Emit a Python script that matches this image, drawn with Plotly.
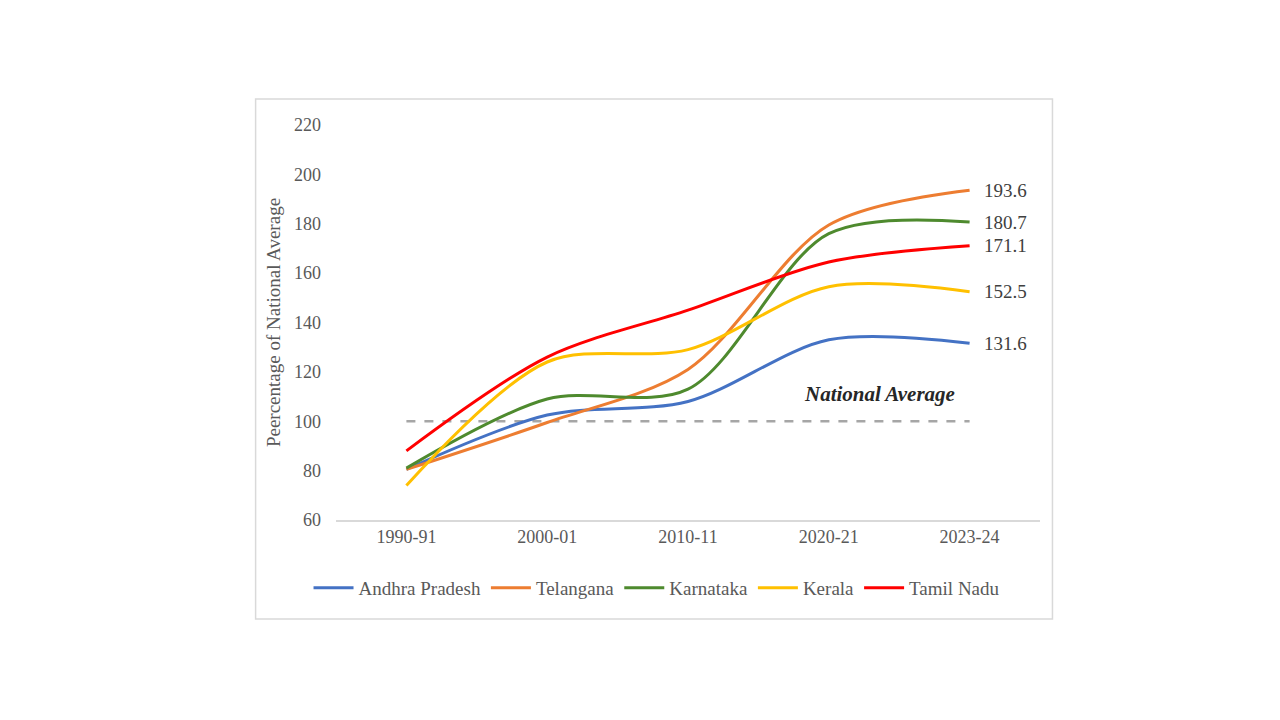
import plotly.graph_objects as go

years = ["1990-91", "2000-01", "2010-11", "2020-21", "2023-24"]
states = ["Andhra Pradesh", "Telangana", "Karnataka", "Kerala", "Tamil Nadu"]
andhra = [80.5, 102.5, 108, 133, 131.6]
telangana = [80.5, 99.5, 121, 179.5, 193.6]
karnataka = [81, 109, 113, 176, 180.7]
kerala = [74, 124, 129, 154.5, 152.5]
tamil_nadu = [88, 126, 145, 164.5, 171.1]
national_avg = [100, 100, 100, 100, 100]
y_ticks = [60, 80, 100, 120, 140, 160, 180, 200, 220]

series = [andhra, telangana, karnataka, kerala, tamil_nadu]
colors = ["#4472C4", "#ED7D31", "#4E8A2E", "#FFC000", "#FF0000"]
FONT = "Liberation Serif"
TXT = "#595959"

fig = go.Figure()
fig.add_trace(go.Scatter(x=years, y=national_avg, mode="lines", showlegend=False,
                         line=dict(color="#A6A6A6", width=2.5, dash="dash"), hoverinfo="skip"))
for name, vals, c in zip(states, series, colors):
    fig.add_trace(go.Scatter(x=years, y=vals, mode="lines", name=name,
                             line=dict(color=c, width=3, shape="spline", smoothing=0.9)))
    fig.add_annotation(x=years[-1], y=vals[-1], text=f"{vals[-1]:.1f}", showarrow=False,
                       xanchor="left", xshift=12, font=dict(family=FONT, size=19, color="#404040"))

fig.add_annotation(x=3.36, y=111, text="<b><i>National Average</i></b>", showarrow=False,
                   font=dict(family=FONT, size=21, color="#262626"))

fig.add_shape(type="rect", xref="paper", yref="paper", x0=-0.1142, x1=1.0177, y0=-0.2506, y1=1.0658,
              line=dict(color="#D9D9D9", width=1.5), fillcolor="rgba(0,0,0,0)", layer="below")

fig.update_layout(
    width=1280, height=720,
    paper_bgcolor="white", plot_bgcolor="white",
    margin=dict(l=327.5, r=247.5, t=117, b=208),
    font=dict(family=FONT, color=TXT, size=18),
    legend=dict(orientation="h", x=0.456, xanchor="center", y=-0.172, yanchor="middle",
                font=dict(family=FONT, size=19, color=TXT), itemwidth=40, tracegroupgap=0),
    xaxis=dict(type="category", range=[-0.5, 4.5], showgrid=False, zeroline=False,
               showline=True, linecolor="#D9D9D9", linewidth=1.5, ticks="",
               tickfont=dict(family=FONT, size=18, color=TXT)),
    yaxis=dict(range=[60, 220], tickvals=y_ticks, showgrid=False, zeroline=False,
               showline=False, ticks="", ticklabelstandoff=14,
               tickfont=dict(family=FONT, size=18, color=TXT),
               title=dict(text="Peercentage of National Average", standoff=8,
                          font=dict(family=FONT, size=19, color=TXT))),
)

fig.write_html("out.html")
